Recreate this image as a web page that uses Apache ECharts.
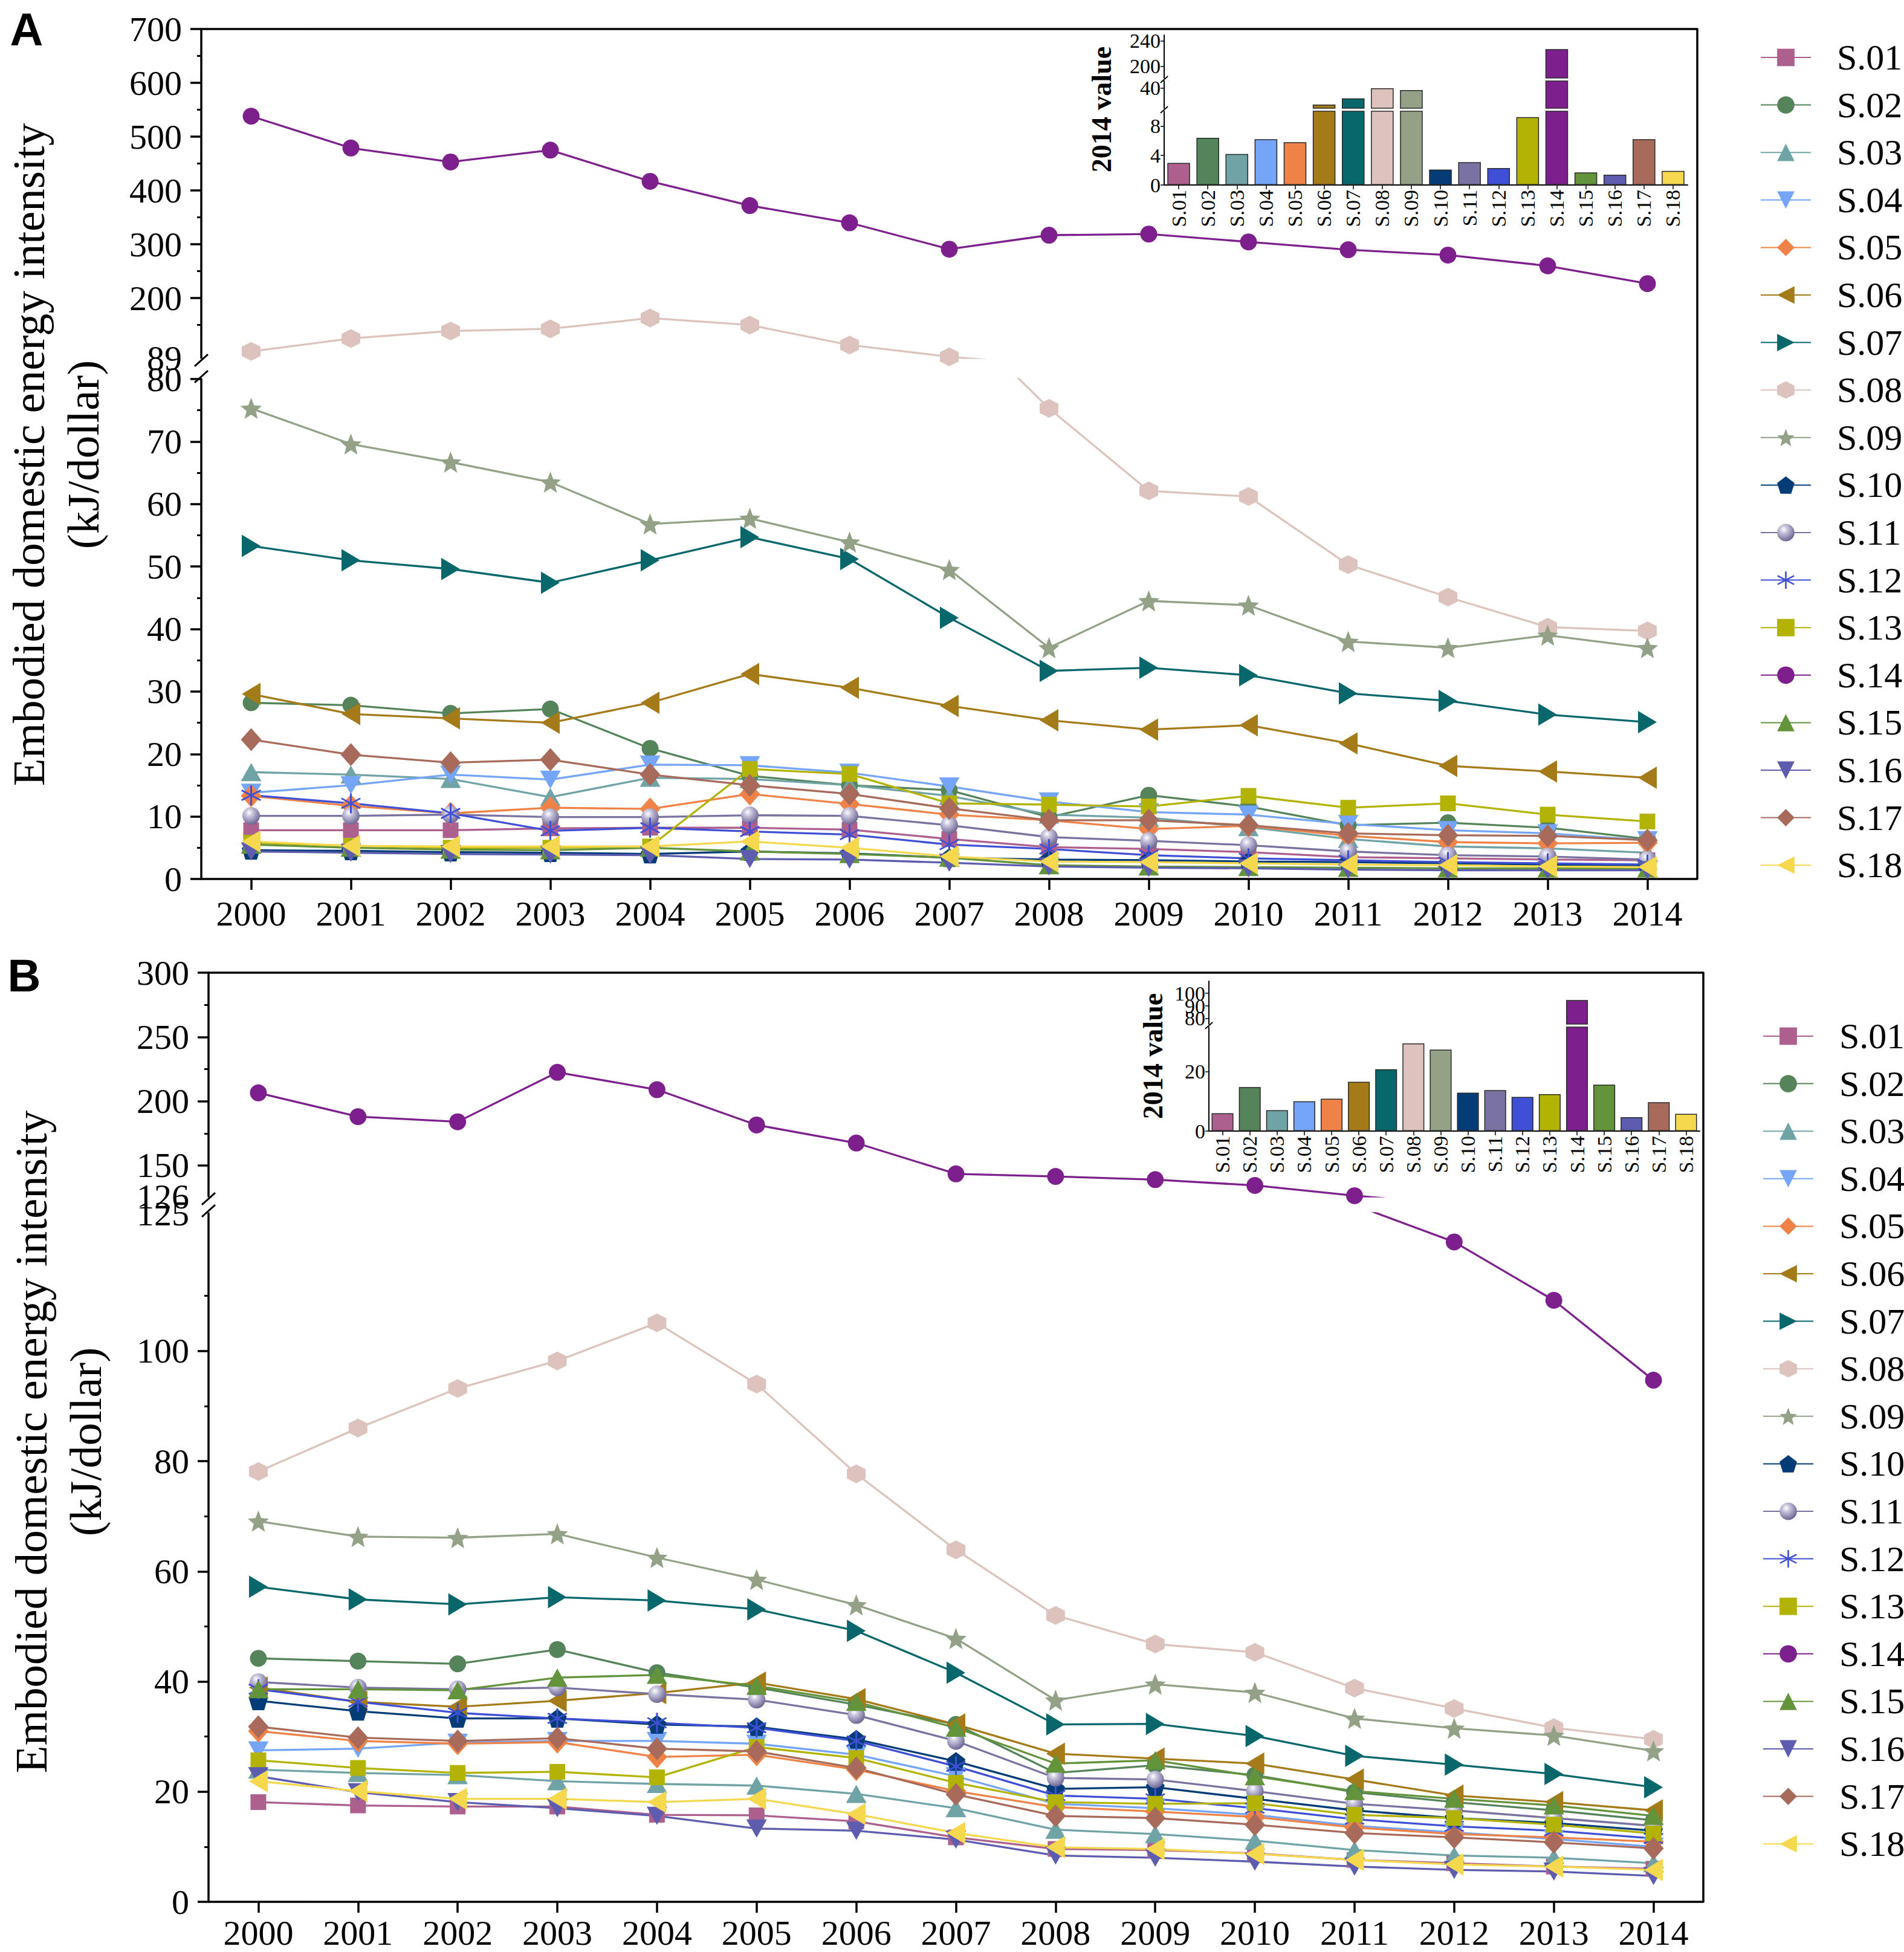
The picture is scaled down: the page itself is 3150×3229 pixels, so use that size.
<!DOCTYPE html>
<html><head><meta charset="utf-8">
<script src="https://cdn.jsdelivr.net/npm/echarts@6/dist/echarts.min.js"></script>
<style>html,body{margin:0;padding:0;background:#fff}#c{width:3150px;height:3229px}</style>
</head><body><div id="c"></div>
<script>
// ---------------- DATA ----------------
const years = ['2000','2001','2002','2003','2004','2005','2006','2007','2008','2009','2010','2011','2012','2013','2014'];
const sectorNames = ['S.01','S.02','S.03','S.04','S.05','S.06','S.07','S.08','S.09','S.10','S.11','S.12','S.13','S.14','S.15','S.16','S.17','S.18'];

// Panel A
const a01 = [7.8, 7.8, 7.8, 8.1, 8.2, 8.2, 7.9, 6.4, 5.1, 4.8, 4.3, 3.5, 3.3, 3.1, 3.0];
const a02 = [28.2, 27.8, 26.5, 27.2, 20.9, 16.5, 15.0, 14.2, 9.9, 13.4, 11.6, 8.6, 9.0, 8.2, 6.4];
const a03 = [17.1, 16.7, 16.0, 13.1, 16.2, 16.0, 15.0, 13.3, 10.3, 9.8, 8.3, 6.4, 5.2, 4.9, 4.2];
const a04 = [13.8, 15.0, 16.7, 15.9, 18.3, 18.2, 17.0, 14.8, 12.4, 10.7, 10.3, 8.8, 7.8, 7.3, 6.2];
const a05 = [13.3, 11.7, 10.5, 11.4, 11.2, 13.6, 12.0, 10.3, 9.4, 8.0, 8.5, 6.9, 5.9, 5.7, 5.8];
const a06 = [29.6, 26.4, 25.7, 25.0, 28.2, 32.8, 30.6, 27.7, 25.4, 23.9, 24.6, 21.7, 18.1, 17.2, 16.2];
const a07 = [53.3, 51.0, 49.6, 47.4, 51.0, 54.7, 51.2, 41.8, 33.3, 33.8, 32.6, 29.7, 28.5, 26.3, 25.1];
const a08 = [101, 125, 139, 143, 163, 150, 113, 91, 75.3, 62.1, 61.2, 50.3, 45.1, 40.3, 39.7];
const a09 = [75.3, 69.6, 66.7, 63.5, 56.8, 57.7, 53.9, 49.5, 37.0, 44.5, 43.8, 38.0, 37.0, 39.0, 37.0];
const a10 = [4.6, 4.5, 4.3, 4.2, 4.0, 4.4, 4.1, 3.4, 3.1, 3.0, 2.8, 2.7, 2.5, 2.3, 2.1];
const a11 = [10.1, 10.1, 10.3, 9.9, 9.9, 10.2, 10.1, 8.6, 6.7, 6.1, 5.4, 4.4, 3.8, 3.6, 3.1];
const a12 = [13.4, 12.1, 10.5, 7.7, 8.2, 7.6, 7.1, 5.5, 4.8, 3.8, 3.3, 3.0, 2.7, 2.5, 2.3];
const a13 = [5.8, 5.3, 5.0, 5.0, 5.2, 17.6, 16.8, 12.1, 11.9, 11.6, 13.3, 11.4, 12.1, 10.3, 9.2];
const a14 = [538, 479, 453, 475, 417, 372, 340, 291, 317, 319, 304.5, 290, 280, 260, 227];
const a15 = [5.5, 5.0, 4.7, 4.6, 5.0, 4.4, 4.0, 3.4, 2.2, 2.0, 1.9, 1.8, 1.7, 1.7, 1.7];
const a16 = [4.4, 4.2, 4.0, 3.9, 3.8, 3.2, 3.1, 2.6, 2.0, 1.8, 1.7, 1.5, 1.4, 1.4, 1.4];
const a17 = [22.3, 19.9, 18.6, 19.1, 16.7, 15.0, 13.6, 11.3, 9.4, 9.4, 8.6, 7.3, 7.0, 6.9, 6.2];
const a18 = [6.0, 5.3, 5.2, 5.2, 5.2, 6.0, 5.0, 3.6, 2.8, 2.7, 2.5, 2.3, 2.2, 2.0, 1.9];

// Panel B
const b01 = [18.1, 17.5, 17.3, 17.3, 15.8, 15.7, 14.6, 11.7, 9.6, 9.4, 8.8, 7.6, 7.0, 6.4, 6.0];
const b02 = [44.2, 43.7, 43.2, 45.8, 41.6, 38.9, 35.8, 32.2, 23.4, 24.8, 23.0, 19.9, 18.1, 16.6, 14.8];
const b03 = [24.0, 23.4, 23.0, 21.9, 21.4, 21.1, 19.6, 17.0, 13.1, 12.3, 11.1, 9.4, 8.4, 8.0, 7.0];
const b04 = [27.5, 27.8, 28.9, 29.2, 29.2, 28.7, 26.7, 22.8, 17.8, 17.0, 15.8, 13.8, 12.6, 11.4, 10.0];
const b05 = [31.0, 29.2, 28.7, 29.0, 26.3, 26.7, 24.0, 20.1, 17.2, 16.4, 15.4, 13.5, 12.3, 11.7, 10.9];
const b06 = [38.9, 36.3, 35.4, 36.5, 37.9, 39.8, 36.8, 32.2, 26.9, 26.0, 25.1, 22.2, 19.3, 18.1, 16.6];
const b07 = [57.2, 54.9, 54.0, 55.3, 54.7, 53.1, 49.2, 41.6, 32.2, 32.3, 30.1, 26.5, 24.9, 23.2, 20.8];
const b08 = [78.1, 86.0, 93.2, 98.2, 105.1, 94.0, 77.7, 63.9, 52.0, 46.8, 45.3, 38.8, 35.1, 31.6, 29.5];
const b09 = [69.1, 66.3, 66.1, 66.8, 62.5, 58.5, 53.9, 47.8, 36.6, 39.5, 38.0, 33.3, 31.5, 30.2, 27.4];
const b10 = [36.5, 34.6, 33.3, 33.3, 32.2, 31.8, 29.5, 25.5, 20.5, 20.8, 18.7, 16.6, 15.2, 14.3, 12.9];
const b11 = [39.9, 38.9, 38.6, 38.9, 37.7, 36.7, 33.9, 29.2, 22.5, 22.2, 20.1, 17.8, 16.6, 15.2, 13.8];
const b12 = [38.6, 36.3, 34.3, 33.3, 32.5, 31.6, 29.2, 24.6, 19.3, 18.7, 17.0, 15.0, 13.7, 12.9, 11.5];
const b13 = [25.7, 24.3, 23.4, 23.6, 22.6, 28.1, 26.1, 21.6, 18.1, 17.8, 17.9, 15.8, 15.2, 14.0, 12.4];
const b14 = [206.5, 188, 184, 222.5, 209, 181.5, 167.5, 143.5, 141.5, 139, 134.5, 126.5, 119.8, 109.2, 94.7];
const b15 = [38.6, 38.6, 38.4, 40.7, 41.2, 39.2, 36.3, 31.6, 25.1, 25.7, 22.8, 20.1, 18.7, 17.5, 15.6];
const b16 = [22.8, 19.9, 18.1, 17.0, 15.6, 13.3, 12.9, 11.3, 8.4, 8.0, 7.3, 6.4, 5.8, 5.5, 4.7];
const b17 = [31.8, 29.8, 29.2, 29.7, 27.8, 27.3, 24.3, 19.5, 15.6, 15.2, 14.0, 12.5, 11.7, 10.8, 9.7];
const b18 = [21.9, 20.1, 18.7, 18.7, 18.1, 18.7, 15.9, 12.5, 9.9, 9.6, 8.7, 7.6, 6.8, 6.4, 5.8];

// Tick values
const aUpperTicks = [200, 300, 400, 500, 600, 700];
const aUpperLabels = [89, 200, 300, 400, 500, 600, 700];
const aUpperMinor = [150, 250, 350, 450, 550, 650];
const aLowerTicks = [0, 10, 20, 30, 40, 50, 60, 70, 80];
const aLowerMinor = [5, 15, 25, 35, 45, 55, 65, 75];
const bUpperTicks = [150, 200, 250, 300];
const bUpperBottomLabel = [126];
const bUpperMinor = [175, 225, 275];
const bLowerTicks = [0, 20, 40, 60, 80, 100];
const bLowerLabels = [0, 20, 40, 60, 80, 100, 125];
const bLowerMinor = [10, 30, 50, 70, 90, 110];
const insetAUpperTicks = [200, 240];
const insetAMidTicks = [40];
const insetALowerTicks = [0, 4, 8];
const insetBUpperTicks = [80, 100];
const insetBUpperMidTick = [90];
const insetBLowerTicks = [0, 20];

// ---------------- STYLE ----------------
const seriesA = [a01,a02,a03,a04,a05,a06,a07,a08,a09,a10,a11,a12,a13,a14,a15,a16,a17,a18];
const seriesB = [b01,b02,b03,b04,b05,b06,b07,b08,b09,b10,b11,b12,b13,b14,b15,b16,b17,b18];
const colors = ['#AD5F8D','#55845A','#6FA3A6','#74A5F6','#EF8347','#A57A19','#08676B','#DCC3BD','#93A287','#043C77','#7A72A0','#3F4FD6','#B3B305','#7D1F8C','#63933B','#5D5CAE','#A86A5A','#F5D84E'];
const SERIF = '"Liberation Serif", "Times New Roman", serif';

function polyPath(n, rO, rI, startDeg) {
  const pts = []; const count = rI ? 2 * n : n; const step = 2 * Math.PI / count;
  for (let k = 0; k < count; k++) {
    const r = (rI && k % 2) ? rI : rO; const a = startDeg * Math.PI / 180 + k * step;
    pts.push((5 + r * Math.cos(a)).toFixed(3) + ',' + (5 + r * Math.sin(a)).toFixed(3));
  }
  return 'path://M' + pts.join('L') + 'Z';
}
function asteriskPath() {
  let s = 'path://';
  [90, 30, 150].forEach(d => {
    const a = d * Math.PI / 180, c = Math.cos(a), si = Math.sin(a), L = 5, t = 0.42;
    const px = -si * t, py = c * t;
    const p = [[5 + L*c + px, 5 + L*si + py], [5 - L*c + px, 5 - L*si + py], [5 - L*c - px, 5 - L*si - py], [5 + L*c - px, 5 + L*si - py]];
    s += 'M' + p.map(q => q[0].toFixed(3) + ',' + q[1].toFixed(3)).join('L') + 'Z';
  });
  return s;
}
const TRI_DOWN = 'path://M0,0L10,0L5,9Z';
const TRI_LEFT = 'path://M9,0L9,10L0,5Z';
const TRI_RIGHT = 'path://M0,0L9,5L0,10Z';
const markers = [
  ['rect', 26], ['circle', 28], ['triangle', [34, 30]], [TRI_DOWN, [34, 30]], ['diamond', [34, 38]],
  [TRI_LEFT, [31, 37]], [TRI_RIGHT, [31, 37]], [polyPath(6, 5, 0, -90), 31], [polyPath(5, 5, 2.2, -90), 35],
  [polyPath(5, 5, 0, -90), 31], ['circle', 29], [asteriskPath(), 33], ['rect', 26], ['circle', 28],
  ['triangle', [34, 30]], [TRI_DOWN, [34, 30]], ['diamond', [34, 38]], [TRI_LEFT, [31, 37]]
];
function symbolColor(i) {
  if (i === 10) return {type: 'radial', x: 0.38, y: 0.32, r: 0.7, colorStops: [
    {offset: 0, color: '#ffffff'}, {offset: 0.3, color: '#c9c5dd'}, {offset: 1, color: '#6b6392'}]};
  return colors[i];
}

// ---------------- LAYOUT ----------------
const G = [
  {left: 333, top: 48, width: 2475, height: 544},   // 0 A upper
  {left: 333, top: 627, width: 2475, height: 827},  // 1 A lower
  {left: 345, top: 1609, width: 2473, height: 370}, // 2 B upper
  {left: 345, top: 2007, width: 2473, height: 1139},// 3 B lower
  {left: 1926, top: 58, width: 866, height: 71},    // 4 inset A upper
  {left: 1926, top: 134, width: 866, height: 45},   // 5 inset A mid
  {left: 1926, top: 184, width: 866, height: 122},  // 6 inset A lower
  {left: 2000, top: 1623, width: 812, height: 71},  // 7 inset B upper
  {left: 2000, top: 1699, width: 812, height: 172}  // 8 inset B lower
];
const grid = G.map(g => Object.assign({containLabel: false, outerBoundsMode: 'none'}, g));

const black = '#000';
function xTop(gi) {
  return {type: 'category', gridIndex: gi, data: years, position: 'top', boundaryGap: true,
    axisLine: {show: true, lineStyle: {color: black, width: 3.5}}, axisTick: {show: false},
    axisLabel: {show: false}, splitLine: {show: false}};
}
function xBottom(gi, margin, lineHeight) {
  const lab = {interval: 0, hideOverlap: false, fontFamily: SERIF, fontSize: 58, color: black, margin: margin};
  if (lineHeight) lab.lineHeight = lineHeight;
  return {type: 'category', gridIndex: gi, data: years, position: 'bottom', boundaryGap: true,
    axisLine: {show: true, lineStyle: {color: black, width: 3.5}},
    axisTick: {show: true, alignWithLabel: true, interval: 0, inside: false, length: 18, lineStyle: {color: black, width: 3.5}},
    axisLabel: lab, splitLine: {show: false}};
}
function xHidden(gi) {
  return {type: 'category', gridIndex: gi, data: sectorNames, show: false, boundaryGap: true};
}
function xInset(gi) {
  return {type: 'category', gridIndex: gi, data: sectorNames, position: 'bottom', boundaryGap: true,
    axisLine: {show: true, lineStyle: {color: black, width: 2}},
    axisTick: {show: true, alignWithLabel: true, interval: 0, length: 7, lineStyle: {color: black, width: 1.5}},
    axisLabel: {interval: 0, hideOverlap: false, rotate: 90, fontFamily: SERIF, fontSize: 34, color: black, margin: 8}, splitLine: {show: false}};
}
function yMain(gi, min, max, ticks, labels) {
  return {type: 'value', gridIndex: gi, min: min, max: max, position: 'left',
    axisLine: {show: true, lineStyle: {color: black, width: 3.5}},
    axisTick: {show: true, inside: false, customValues: ticks, length: 18, lineStyle: {color: black, width: 3.5}},
    axisLabel: {customValues: labels, hideOverlap: false, fontFamily: SERIF, fontSize: 58, color: black, margin: 32},
    splitLine: {show: false}};
}
function yMinor(gi, min, max, ticks, labels) {
  return {type: 'value', gridIndex: gi, min: min, max: max, position: 'left', offset: 0,
    axisLine: {show: false}, splitLine: {show: false},
    axisLabel: labels ? {customValues: labels, hideOverlap: false, fontFamily: SERIF, fontSize: 58, color: black, margin: 32} : {show: false},
    axisTick: {show: true, inside: false, customValues: ticks, length: 7, lineStyle: {color: black, width: 3}}};
}
function yInset(gi, min, max, ticks, noLine) {
  return {type: 'value', gridIndex: gi, min: min, max: max, position: 'left', offset: 0,
    axisLine: {show: !noLine, lineStyle: {color: black, width: 2}},
    axisTick: {show: true, inside: false, customValues: ticks, length: 6, lineStyle: {color: black, width: 1.5}},
    axisLabel: {customValues: ticks, hideOverlap: false, fontFamily: SERIF, fontSize: 34, color: black, margin: 6},
    splitLine: {show: false}};
}

const xAxis = [xTop(0), xBottom(1, 28), xTop(2), xBottom(3, 22, 58), xHidden(4), xHidden(5), xInset(6), xHidden(7), xInset(8)];
const yAxis = [
  yMain(0, 89, 700, aUpperTicks, aUpperLabels),           // 0
  yMinor(0, 89, 700, aUpperMinor),                        // 1
  yMain(1, 0, 80, aLowerTicks, aLowerTicks),              // 2
  yMinor(1, 0, 80, aLowerMinor),                          // 3
  yMain(2, 126, 300, bUpperTicks, bUpperTicks),           // 4
  yMinor(2, 126, 300, bUpperMinor, bUpperBottomLabel),    // 5
  yMain(3, 0, 125, bLowerTicks, bLowerLabels),            // 6
  yMinor(3, 0, 125, bLowerMinor),                         // 7
  yInset(4, 182, 249, insetAUpperTicks),                  // 8
  yInset(5, 11, 50, insetAMidTicks),                      // 9
  yInset(6, 0, 10, insetALowerTicks),                     // 10
  yInset(7, 75.7, 109.6, insetBUpperTicks),               // 11
  yInset(8, 0, 35, insetBLowerTicks),                     // 12
  yInset(7, 75.7, 109.6, insetBUpperMidTick, true)        // 13
];

const series = [];
function addLines(dataSet, xi, yi) {
  dataSet.forEach((d, i) => {
    series.push({type: 'line', name: sectorNames[i], data: d, xAxisIndex: xi, yAxisIndex: yi, clip: true,
      symbol: markers[i][0], symbolSize: markers[i][1], showAllSymbol: true,
      itemStyle: {color: symbolColor(i)}, lineStyle: {color: colors[i], width: 3.3},
      emphasis: {disabled: true}, animation: false, z: 2});
  });
}
addLines(seriesA, 0, 0);
addLines(seriesA, 1, 2);
addLines(seriesB, 2, 4);
addLines(seriesB, 3, 6);

function addBars(dataSet, xi, yi, gap) {
  series.push({type: 'bar', name: 'inset', xAxisIndex: xi, yAxisIndex: yi, clip: true, barCategoryGap: gap,
    data: dataSet.map((d, i) => ({value: d[d.length - 1], itemStyle: {color: colors[i]}})),
    itemStyle: {borderColor: '#2a2a2a', borderWidth: 1.5}, emphasis: {disabled: true}, animation: false, z: 3});
}
addBars(seriesA, 4, 8, '22%');
addBars(seriesA, 5, 9, '22%');
addBars(seriesA, 6, 10, '22%');
addBars(seriesB, 7, 11, '20%');
addBars(seriesB, 8, 12, '20%');

function legendAt(left, top) {
  return {show: true, orient: 'vertical', left: left, top: top, padding: 0, itemGap: 18.6, itemWidth: 83, itemHeight: 36,
    selectedMode: false, data: sectorNames,
    textStyle: {fontFamily: SERIF, fontSize: 60, color: black, lineHeight: 60, padding: [0, 0, 0, 38]}};
}

function breakMark(x, yTop, yBot, half, w) {
  return [
    {type: 'line', shape: {x1: x - half, y1: yTop + half * 0.9, x2: x + half, y2: yTop - half * 0.9}, style: {stroke: black, lineWidth: w}, z: 10},
    {type: 'line', shape: {x1: x - half, y1: yBot + half * 0.9, x2: x + half, y2: yBot - half * 0.9}, style: {stroke: black, lineWidth: w}, z: 10}
  ];
}
const graphic = [
  {type: 'text', x: 44, y: 48, style: {text: 'A', font: 'bold 76px "Liberation Sans", Arial, sans-serif', fill: black, textAlign: 'center', textVerticalAlign: 'middle'}},
  {type: 'text', x: 40, y: 1613, style: {text: 'B', font: 'bold 76px "Liberation Sans", Arial, sans-serif', fill: black, textAlign: 'center', textVerticalAlign: 'middle'}},
  {type: 'text', x: 92, y: 752, rotation: Math.PI / 2, style: {text: 'Embodied domestic energy intensity\n(kJ/dollar)', font: '75px ' + SERIF, lineHeight: 90, fill: black, textAlign: 'center', textVerticalAlign: 'middle'}},
  {type: 'text', x: 96, y: 2385, rotation: Math.PI / 2, style: {text: 'Embodied domestic energy intensity\n(kJ/dollar)', font: '75px ' + SERIF, lineHeight: 90, fill: black, textAlign: 'center', textVerticalAlign: 'middle'}},
  {type: 'text', x: 1822, y: 181, rotation: Math.PI / 2, style: {text: '2014 value', font: 'bold 46px ' + SERIF, fill: black, textAlign: 'center', textVerticalAlign: 'middle'}},
  {type: 'text', x: 1907, y: 1747, rotation: Math.PI / 2, style: {text: '2014 value', font: 'bold 46px ' + SERIF, fill: black, textAlign: 'center', textVerticalAlign: 'middle'}},
  {type: 'line', shape: {x1: 2808, y1: 48, x2: 2808, y2: 1454}, style: {stroke: black, lineWidth: 3.5}},
  {type: 'line', shape: {x1: 2818, y1: 1609, x2: 2818, y2: 3146}, style: {stroke: black, lineWidth: 3.5}},
  ...breakMark(333, 596, 623, 11, 3),
  ...breakMark(345, 1983, 2003, 11, 3),
  ...breakMark(1926, 131.5, 131.5, 6, 1.5),
  ...breakMark(1926, 181.5, 181.5, 6, 1.5),
  ...breakMark(2000, 1696.5, 1696.5, 6, 1.5)
];

const chart = echarts.init(document.getElementById('c'), null, {renderer: 'svg', width: 3150, height: 3229});
chart.setOption({
  backgroundColor: '#ffffff',
  animation: false,
  grid: grid,
  xAxis: xAxis,
  yAxis: yAxis,
  legend: [legendAt(2912, 65), legendAt(2916, 1684)],
  series: series,
  graphic: graphic
});
</script>
</body></html>
